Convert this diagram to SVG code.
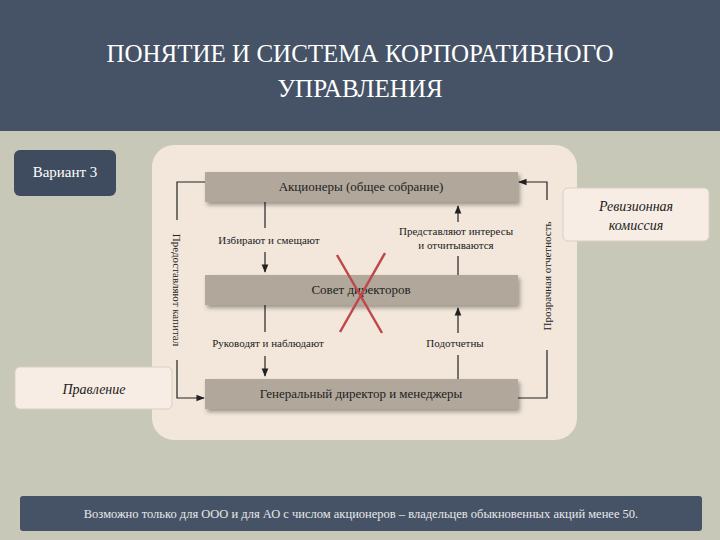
<svg xmlns="http://www.w3.org/2000/svg" width="720" height="540" viewBox="0 0 720 540">
<defs>
<style>
.t{font-family:"Liberation Serif",serif;fill:#222}
.box{fill:#b1a79b;filter:url(#sh)}
.ln{stroke:#222;stroke-width:1.2;fill:none}
.side{fill:#f8ede4;stroke:#d9cfc4}
</style>
<filter id="sh" x="-5%" y="-30%" width="110%" height="160%"><feDropShadow dx="2" dy="3" stdDeviation="2" flood-opacity="0.35"/></filter>
<marker id="a" viewBox="0 0 10 10" refX="9" refY="5" markerWidth="7" markerHeight="7" orient="auto"><path d="M0,1 L10,5 L0,9 z" fill="#222"/></marker>
</defs>
<rect width="720" height="540" fill="#c8c8b8"/>
<rect width="720" height="131" fill="#465366"/>
<text class="t" x="360" y="62" text-anchor="middle" font-size="25" fill="#fff" style="fill:#fff">ПОНЯТИЕ И СИСТЕМА КОРПОРАТИВНОГО</text>
<text class="t" x="360" y="97" text-anchor="middle" font-size="25" style="fill:#fff">УПРАВЛЕНИЯ</text>
<rect x="152" y="145" width="425" height="295" rx="22" fill="#f2e7da"/>
<g id="variant"><rect x="14" y="150" width="102" height="46" rx="6" fill="#3f4b5e"/><text class="t" x="65" y="177" text-anchor="middle" font-size="15" style="fill:#fff">Вариант 3</text></g>
<g id="connectors">
<path class="ln" d="M205,182 H177 V398 H204" marker-end="url(#a)"/>
<path class="ln" d="M518,398 H547 V182 H519" marker-end="url(#a)"/>
<path class="ln" d="M265,202 V228"/><path class="ln" d="M265,252 V272" marker-end="url(#a)"/>
<path class="ln" d="M265,305 V332"/><path class="ln" d="M265,356 V376" marker-end="url(#a)"/>
<path class="ln" d="M458,275 V256"/><path class="ln" d="M458,222 V206" marker-end="url(#a)"/>
<path class="ln" d="M458,379 V355"/><path class="ln" d="M458,333 V308" marker-end="url(#a)"/>
<rect x="170" y="220" width="14" height="140" fill="#f2e7da"/>
<rect x="540" y="200" width="14" height="150" fill="#f2e7da"/>
<text class="t" font-size="11" transform="translate(173,290) rotate(90)" text-anchor="middle">Предоставляют капитал</text>
<text class="t" font-size="11" transform="translate(551,276) rotate(-90)" text-anchor="middle">Прозрачная отчетность</text>
<text class="t" x="269" y="244" text-anchor="middle" font-size="11">Избирают и смещают</text>
<text class="t" x="268" y="347" text-anchor="middle" font-size="11">Руководят и наблюдают</text>
<text class="t" x="456" y="235" text-anchor="middle" font-size="11">Представляют интересы</text>
<text class="t" x="456" y="249" text-anchor="middle" font-size="11">и отчитываются</text>
<text class="t" x="455" y="347" text-anchor="middle" font-size="11">Подотчетны</text>
</g>
<g id="shareholders"><rect class="box" x="205" y="172" width="313" height="30"/><text class="t" x="361" y="191" text-anchor="middle" font-size="13">Акционеры (общее собрание)</text></g>
<g id="board"><rect class="box" x="205" y="275" width="313" height="30"/><text class="t" x="361" y="294" text-anchor="middle" font-size="13">Совет директоров</text></g>
<g id="managers"><rect class="box" x="205" y="379" width="313" height="30"/><text class="t" x="361" y="398" text-anchor="middle" font-size="13">Генеральный директор и менеджеры</text></g>
<g id="cross"><path d="M337,255 L382,333 M385,253 L340,332" stroke="#c0484a" stroke-width="2.5"/></g>
<g id="revision"><rect class="side" x="563" y="188" width="146" height="53" rx="5"/><text class="t" x="636" y="211" text-anchor="middle" font-size="14" font-style="italic">Ревизионная</text><text class="t" x="636" y="230" text-anchor="middle" font-size="14" font-style="italic">комиссия</text></g>
<g id="board2"><rect class="side" x="15" y="367" width="157" height="42" rx="5"/><text class="t" x="94" y="394" text-anchor="middle" font-size="14" font-style="italic">Правление</text></g>
<g id="note"><rect x="20" y="496" width="682" height="35" rx="3" fill="#465366"/><text class="t" x="361" y="518" text-anchor="middle" font-size="12.5" style="fill:#e8e8e8">Возможно только для ООО и для АО с числом акционеров – владельцев обыкновенных акций менее 50.</text></g>
</svg>
